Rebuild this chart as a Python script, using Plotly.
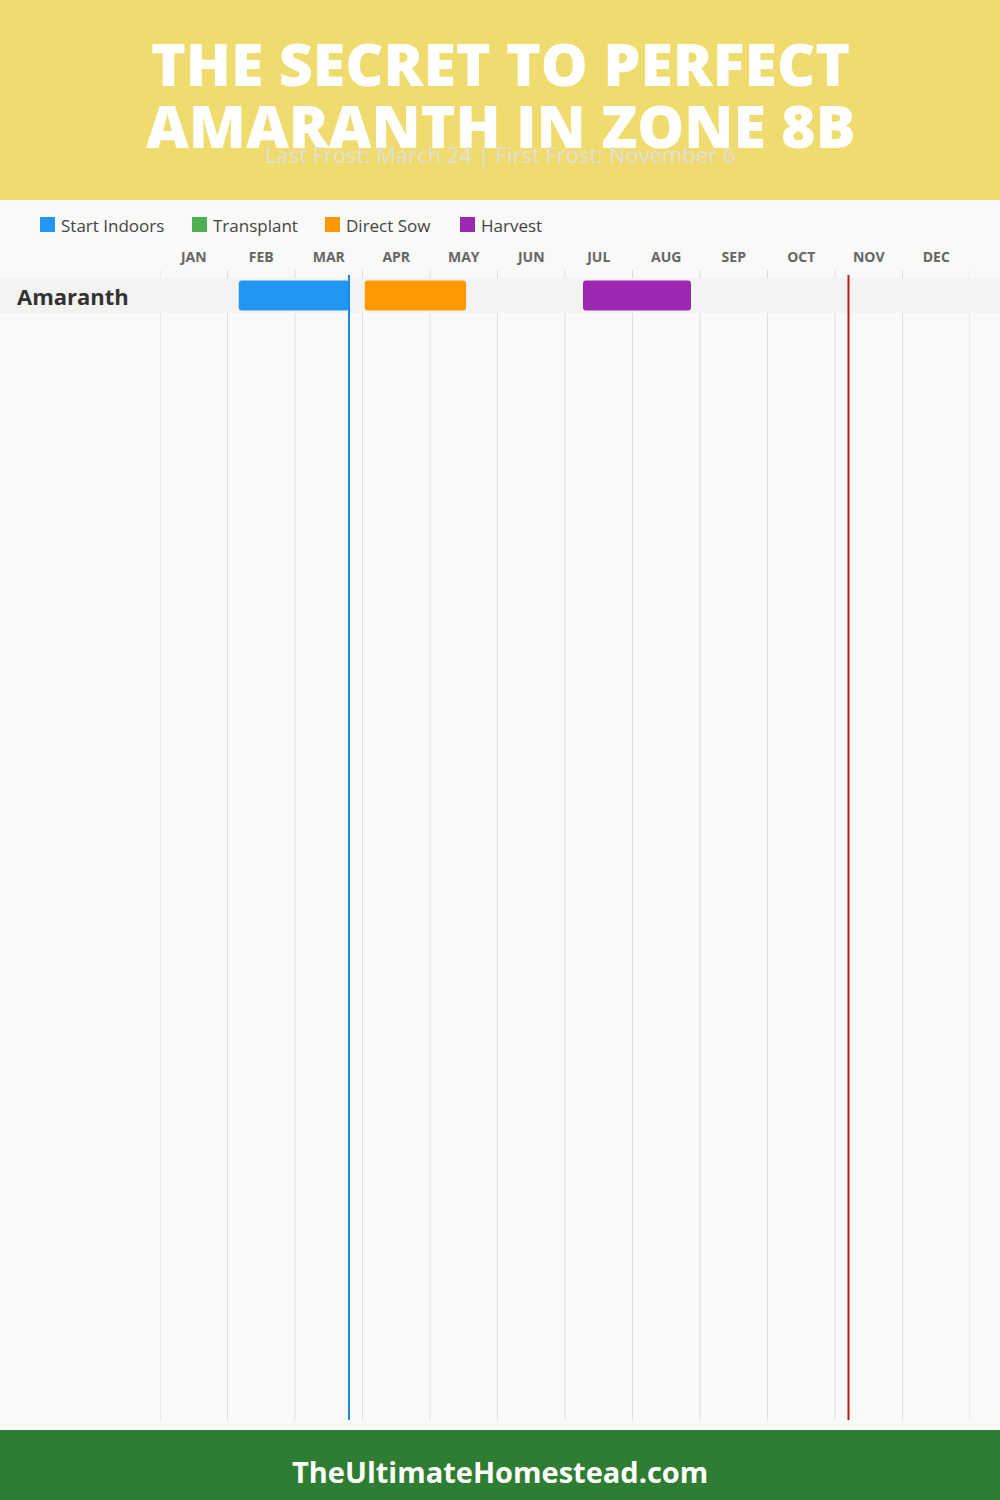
import plotly.graph_objects as go

# ---------------- data ----------------
months = ["JAN", "FEB", "MAR", "APR", "MAY", "JUN", "JUL", "AUG", "SEP", "OCT", "NOV", "DEC"]
crops = ["Amaranth"]
stages = ["Start Indoors", "Transplant", "Direct Sow", "Harvest"]
stage_colors = ["#2196F3", "#4CAF50", "#FF9800", "#9C27B0"]
# (month index 0-based, day) start/end per stage; None = not applicable
start_indoors = [((1, 5), (2, 24))]
transplant = [None]
direct_sow = [((3, 1), (4, 16))]
harvest = [((6, 8), (7, 26))]
last_frost = (2, 24)   # March 24
first_frost = (10, 6)  # November 6

title_lines = ["THE SECRET TO PERFECT", "AMARANTH IN ZONE 8B"]
subtitle = "Last Frost: March 24 | First Frost: November 6"
footer = "TheUltimateHomestead.com"


def mpos(md):
    m, d = md
    return m + d / 30.0


W, H = 1000, 1500


def py(pix):  # pixel from top -> paper
    return 1 - pix / H


def px(pix):  # pixel from left -> paper
    return pix / W


plot_top, plot_bot = 278, 1420
row_h = 35
n_rows_visible = (plot_bot - plot_top) / row_h

fig = go.Figure()

for name, color, data in zip(stages, stage_colors, [start_indoors, transplant, direct_sow, harvest]):
    xs, bases, ys = [], [], []
    for crop, rng in zip(crops, data):
        if rng is None:
            continue
        s, e = mpos(rng[0]), mpos(rng[1])
        bases.append(s)
        xs.append(e - s)
        ys.append(crop)
    fig.add_trace(go.Bar(
        x=xs if xs else [None], base=bases if bases else [None], y=ys if ys else [crops[0]],
        orientation="h", name=name, marker=dict(color=color, cornerradius=3, line=dict(width=0)),
        width=30 / row_h, showlegend=False, hoverinfo="skip",
    ))

shapes = []
# header / footer
shapes.append(dict(type="rect", xref="paper", yref="paper", x0=0, x1=1, y0=py(200), y1=1,
                   fillcolor="#F0DB6E", line=dict(width=0), layer="below"))
shapes.append(dict(type="rect", xref="paper", yref="paper", x0=0, x1=1, y0=0, y1=py(1430),
                   fillcolor="#2E7D32", line=dict(width=0), layer="below"))
# month grid lines
for i in range(len(months) + 1):
    shapes.append(dict(type="line", xref="x", yref="paper", x0=i, x1=i, y0=py(270), y1=py(1420),
                       line=dict(color="#DDDDDD", width=1), layer="below"))
# row bands
for j, crop in enumerate(crops):
    shapes.append(dict(type="rect", xref="paper", yref="y", x0=0, x1=1, y0=j - 0.5, y1=j + 0.5,
                       fillcolor="#F3F3F1", line=dict(width=0), layer="below"))
# frost lines
shapes.append(dict(type="line", xref="x", yref="paper", x0=mpos(last_frost), x1=mpos(last_frost),
                   y0=py(275), y1=py(1420), line=dict(color="#1E88E5", width=2), layer="above"))
shapes.append(dict(type="line", xref="x", yref="paper", x0=mpos(first_frost), x1=mpos(first_frost),
                   y0=py(275), y1=py(1420), line=dict(color="#B71C1C", width=2), layer="above"))

annotations = []
# custom legend
legend_x = [40, 192, 325, 460]
for name, color, lx in zip(stages, stage_colors, legend_x):
    shapes.append(dict(type="rect", xref="paper", yref="paper", x0=px(lx), x1=px(lx + 15),
                       y0=py(232), y1=py(217), fillcolor=color, line=dict(width=0)))
    annotations.append(dict(text=name, xref="paper", yref="paper", x=px(lx + 19), y=py(225),
                            showarrow=False, xanchor="left", yanchor="middle",
                            font=dict(family="Open Sans", size=17, color="#444444")))

annotations.append(dict(text=title_lines[0], xref="paper", yref="paper", x=0.5, y=py(63),
                        showarrow=False, xanchor="center", yanchor="middle",
                        font=dict(family="Open Sans", size=59, color="white", weight=800)))
annotations.append(dict(text=title_lines[1], xref="paper", yref="paper", x=0.5, y=py(125),
                        showarrow=False, xanchor="center", yanchor="middle",
                        font=dict(family="Open Sans", size=59, color="white", weight=800)))
annotations.append(dict(text=subtitle, xref="paper", yref="paper", x=0.5, y=py(154),
                        showarrow=False, xanchor="center", yanchor="middle",
                        font=dict(family="Open Sans", size=22, color="#E2E0D8", weight=400)))
annotations.append(dict(text=footer, xref="paper", yref="paper", x=0.5, y=py(1471),
                        showarrow=False, xanchor="center", yanchor="middle",
                        font=dict(family="Open Sans", size=29, color="white", weight=700)))
for j, crop in enumerate(crops):
    annotations.append(dict(text=crop, xref="paper", yref="y", x=px(15), y=j,
                            showarrow=False, xanchor="left", yanchor="middle",
                            font=dict(family="Open Sans", size=22, color="#333333", weight=700)))

fig.update_layout(
    width=W, height=H,
    margin=dict(l=0, r=0, t=0, b=0),
    paper_bgcolor="#F9F9F7", plot_bgcolor="rgba(0,0,0,0)",
    barmode="overlay",
    shapes=shapes, annotations=annotations,
    showlegend=False,
    xaxis=dict(domain=[0.16, 0.97], range=[0, 12], side="top", showgrid=False, zeroline=False,
               tickvals=[i + 0.5 for i in range(12)], ticktext=months, ticks="",
               tickfont=dict(family="Open Sans", size=14, color="#666666", weight=700),
               ticklabelstandoff=12, fixedrange=True),
    yaxis=dict(domain=[py(plot_bot), py(plot_top)], range=[-0.5 + n_rows_visible, -0.5],
               type="category", categoryarray=crops, showticklabels=False, showgrid=False,
               zeroline=False, fixedrange=True),
)

fig.write_html("out.html", config={"displayModeBar": False},
               post_script="document.body.style.margin='0';document.body.style.overflow='hidden';")
